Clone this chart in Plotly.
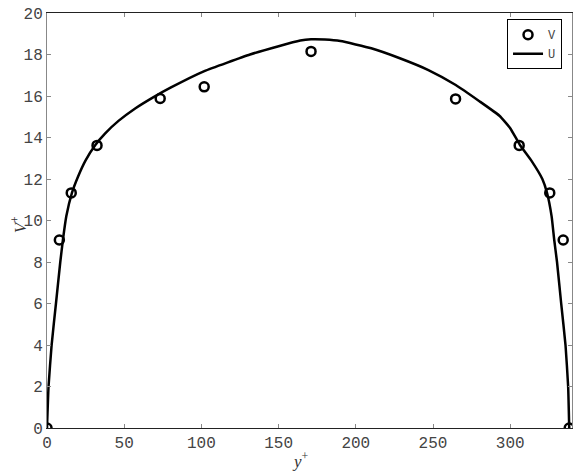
import plotly.graph_objects as go

# V profile (circles)
v_x = [0, 8.0, 15.7, 32.4, 73.3, 101.8, 171, 264.6, 305.8, 325.6, 334.3, 338.2]
v_y = [0, 9.06, 11.33, 13.62, 15.88, 16.44, 18.15, 15.86, 13.62, 11.33, 9.06, 0]

# U profile (solid line)
u_x = [0, 1, 3, 5.8, 8.6, 10.3, 12.5, 16.2, 20, 25, 31.3, 37.7, 46.3, 57.1,
       67.9, 80, 101.9, 131.5, 150, 164, 171, 180, 190, 210, 228.5, 247,
       264.7, 280, 293, 300, 306.2, 314, 320.8, 323.8, 326.8, 328.5, 330.3,
       333, 335.8, 337.5, 338.2]
u_y = [0, 2, 4, 6, 8, 9.06, 10.2, 11.34, 12.1, 12.9, 13.64, 14.2, 14.8, 15.4,
       15.9, 16.4, 17.2, 18.0, 18.4, 18.67, 18.73, 18.72, 18.65, 18.3, 17.82,
       17.25, 16.53, 15.75, 15.05, 14.45, 13.65, 12.85, 12.0, 11.34, 10.2,
       9.06, 8, 6, 4, 2, 0]

mono = "Liberation Mono"
serif = "Liberation Serif"

fig = go.Figure()
fig.add_trace(go.Scatter(
    x=v_x, y=v_y, name="V", mode="markers",
    marker=dict(symbol="circle-open", size=9, color="black",
                line=dict(width=2.5, color="black")),
))
fig.add_trace(go.Scatter(
    x=u_x, y=u_y, name="U", mode="lines",
    line=dict(color="black", width=2.5, shape="spline", smoothing=0.4),
))

# page body has an 8px margin, so the figure is 8px smaller than the window
fig.update_layout(
    width=573, height=463,
    margin=dict(l=39, r=9, t=5, b=43),
    plot_bgcolor="white", paper_bgcolor="white",
    font=dict(family=mono, size=16, color="#444444"),
    legend=dict(
        x=0.981, y=0.985, xanchor="right", yanchor="top",
        bordercolor="black", borderwidth=1, bgcolor="white",
        font=dict(family=mono, size=12, color="#444444"),
        itemwidth=30, tracegroupgap=0,
    ),
    showlegend=True,
    annotations=[
        dict(text="<i>y</i><sup>+</sup>", x=0.483, y=-0.045,
             xref="paper", yref="paper", xanchor="center", yanchor="top",
             showarrow=False, font=dict(family=serif, size=17, color="#333333")),
        dict(text="<i>V</i><sup>+</sup>", x=-0.054, y=0.49,
             xref="paper", yref="paper", xanchor="center", yanchor="middle",
             textangle=-90, showarrow=False,
             font=dict(family=serif, size=17, color="#333333")),
    ],
)
fig.update_xaxes(
    range=[0, 340], tickvals=[0, 50, 100, 150, 200, 250, 300],
    automargin=False, showgrid=False, zeroline=False,
    showline=True, linecolor="#222222", linewidth=1, mirror="ticks",
    ticks="inside", ticklen=4, tickcolor="#888888",
    ticklabeloverflow="allow",
)
fig.update_yaxes(
    range=[0, 20], dtick=2,
    automargin=False, showgrid=False, zeroline=False,
    showline=True, linecolor="#888888", linewidth=1, mirror="ticks",
    ticks="inside", ticklen=4, tickcolor="#888888",
    ticklabeloverflow="allow",
)

fig.write_html("out.html")
